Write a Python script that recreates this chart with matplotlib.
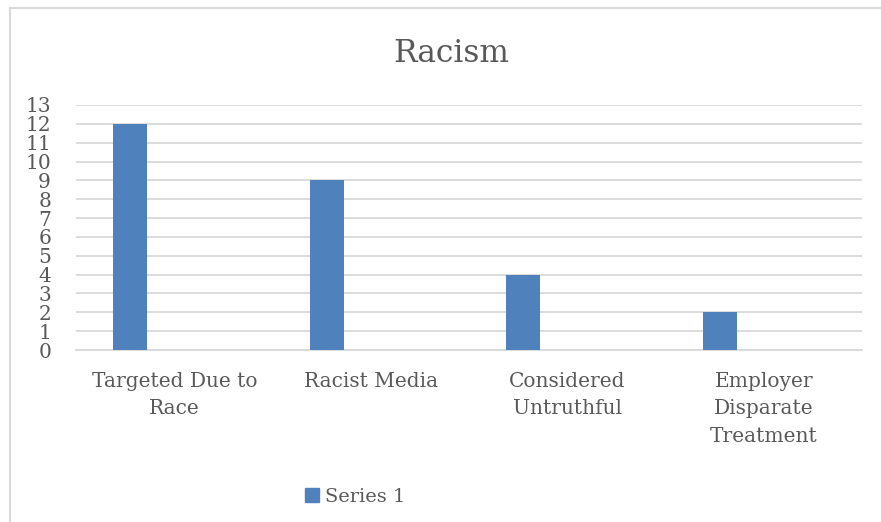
import numpy as np
import matplotlib
matplotlib.use('Agg')
import matplotlib.pyplot as plt
from matplotlib.lines import Line2D
from matplotlib.patches import Patch

categories = ['Targeted Due to\nRace', 'Racist Media', 'Considered\nUntruthful',
              'Employer\nDisparate\nTreatment']
series1 = [12, 9, 4, 2]
yticks = list(range(0, 14))

plt.rcParams['font.family'] = ['DejaVu Serif']
txt = '#595959'
bar_col = '#4F81BD'
grid_col = '#D9D9D9'

fig = plt.figure(figsize=(8.81, 5.22), dpi=100)
ax = fig.add_axes([76/881, 1-350/522, 786/881, 245/522])

x = np.arange(len(categories))
ax.bar(x - 0.224, series1, width=0.173, color=bar_col, zorder=3)
ax.set_xlim(-0.5, len(categories) - 0.5)
ax.set_ylim(0, 13)
ax.set_yticks(yticks)
ax.set_yticklabels([str(t) for t in yticks])
ax.set_xticks(x)
ax.set_xticklabels(categories, linespacing=1.55)
ax.tick_params(axis='both', length=0, colors=txt)
ax.tick_params(axis='x', pad=16, labelsize=14.5)
ax.tick_params(axis='y', pad=18, labelsize=14.5)
ax.grid(axis='y', color=grid_col, linewidth=1.3, zorder=0)
for s in ['top', 'right', 'left']:
    ax.spines[s].set_visible(False)
ax.spines['bottom'].set_color(grid_col)
ax.spines['bottom'].set_linewidth(1.3)

fig.text(451/881, 1-53/522, 'Racism', ha='center', va='center', fontsize=22.5, color=txt)

# outer chart border (only left and top visible in crop)
fig.add_artist(Line2D([10/881, 10/881], [0, 1-8/522], transform=fig.transFigure, color=grid_col, lw=1.5))
fig.add_artist(Line2D([10/881, 1], [1-8/522, 1-8/522], transform=fig.transFigure, color=grid_col, lw=1.5))

fig.legend(handles=[Patch(color=bar_col, label='Series 1')], loc='center',
           bbox_to_anchor=(355/881, 1-497/522), frameon=False, fontsize=14,
           handlelength=0.7, handleheight=0.7, handletextpad=0.3, labelcolor=txt)

fig.savefig('out.png', dpi=100)
